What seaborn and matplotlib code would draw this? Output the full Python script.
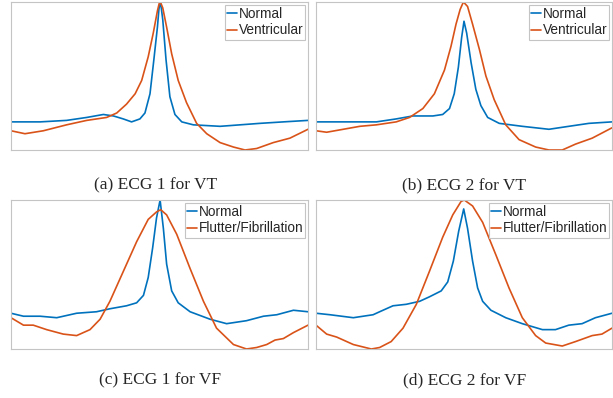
import matplotlib
matplotlib.use("Agg")
import matplotlib.pyplot as plt
import seaborn as sns

# Normalised ECG beats, x in % of the window, y as fraction of amplitude range
# (a) ECG 1 for VT
a_norm_x = [0, 9.8, 18.7, 25.5, 31.1, 34.5, 37.8, 40.6, 43.4, 45.1, 46.8, 48.1, 49.3, 49.8, 50.2,
            50.6, 51.1, 52.2, 53.5, 55.2, 57.5, 61.4, 70.4, 77.1, 83.8, 91.7, 100]
a_norm_y = [0.19, 0.19, 0.20, 0.22, 0.24, 0.23, 0.21, 0.19, 0.21, 0.25, 0.38, 0.61, 0.83, 0.95, 1.0,
            0.96, 0.88, 0.61, 0.36, 0.24, 0.19, 0.17, 0.16, 0.17, 0.18, 0.19, 0.20]
a_vt_x = [0, 4.7, 10.9, 18.7, 25.5, 32.2, 35.6, 38.9, 41.8, 44.0, 46.2, 47.9, 49.3, 49.9,
          50.5, 51.1, 52.4, 54.1, 56.3, 59.1, 62.5, 65.9, 70.4, 74.9, 78.8, 82.7, 88.3, 93.9, 100]
a_vt_y = [0.13, 0.11, 0.13, 0.17, 0.20, 0.22, 0.25, 0.31, 0.38, 0.47, 0.63, 0.79, 0.94, 0.99,
          0.99, 0.96, 0.83, 0.65, 0.47, 0.32, 0.18, 0.11, 0.05, 0.02, 0.0, 0.01, 0.05, 0.08, 0.14]

# (b) ECG 2 for VT
b_norm_x = [0, 9.2, 20.4, 27.1, 32.7, 39.5, 42.8, 45.1, 46.7, 48.1, 49.2, 50.0, 50.9, 52.4,
            54.0, 55.7, 58.0, 61.9, 69.7, 78.7, 85.4, 92.2, 100]
b_norm_y = [0.19, 0.19, 0.19, 0.21, 0.23, 0.23, 0.24, 0.28, 0.38, 0.56, 0.76, 0.87, 0.79, 0.59,
            0.41, 0.30, 0.22, 0.18, 0.16, 0.14, 0.16, 0.18, 0.19]
b_vt_x = [0, 3.6, 9.2, 14.8, 20.4, 27.1, 31.6, 36.1, 40.0, 43.4, 45.6, 47.3, 48.7, 49.8,
          51.2, 52.9, 55.2, 57.4, 60.2, 64.1, 68.6, 74.2, 78.7, 83.2, 87.7, 93.3, 100]
b_vt_y = [0.13, 0.12, 0.14, 0.16, 0.17, 0.19, 0.22, 0.28, 0.38, 0.54, 0.70, 0.85, 0.95, 1.0,
          0.97, 0.85, 0.68, 0.50, 0.34, 0.17, 0.07, 0.02, 0.0, 0.0, 0.04, 0.08, 0.15]

# (c) ECG 1 for VF
c_norm_x = [0, 4.2, 9.8, 15.4, 22.1, 28.8, 33.3, 38.9, 42.3, 44.6, 46.2, 47.7, 49.0, 50.2,
            51.3, 52.4, 54.1, 56.3, 60.3, 67.0, 72.6, 79.3, 85.0, 89.5, 95.1, 100]
c_norm_y = [0.24, 0.22, 0.22, 0.21, 0.24, 0.25, 0.27, 0.29, 0.31, 0.36, 0.48, 0.68, 0.88, 1.0,
            0.81, 0.57, 0.39, 0.31, 0.25, 0.20, 0.17, 0.19, 0.22, 0.23, 0.26, 0.25]
c_vf_x = [0, 4.2, 7.5, 12.0, 17.6, 22.1, 26.6, 30.0, 33.3, 37.8, 42.3, 46.2, 49.0, 50.4,
          52.4, 55.8, 60.3, 64.8, 69.2, 74.9, 79.3, 82.7, 86.1, 88.9, 91.7, 95.1, 100]
c_vf_y = [0.21, 0.16, 0.16, 0.13, 0.10, 0.09, 0.13, 0.20, 0.32, 0.52, 0.72, 0.87, 0.92, 0.935,
          0.90, 0.77, 0.54, 0.32, 0.14, 0.03, 0.0, 0.01, 0.03, 0.06, 0.07, 0.11, 0.16]

# (d) ECG 2 for VF
d_norm_x = [0, 4.7, 12.6, 19.3, 21.5, 26.0, 30.5, 35.0, 38.3, 42.3, 44.5, 46.4, 48.2, 49.9,
            51.2, 52.9, 54.6, 56.3, 59.1, 64.1, 69.7, 76.5, 80.9, 85.4, 89.9, 94.4, 100]
d_norm_y = [0.24, 0.23, 0.21, 0.23, 0.25, 0.29, 0.30, 0.32, 0.35, 0.39, 0.45, 0.59, 0.79, 0.94,
            0.81, 0.59, 0.41, 0.32, 0.26, 0.21, 0.17, 0.13, 0.13, 0.16, 0.17, 0.21, 0.24]
d_vf_x = [0, 3.6, 7.0, 12.6, 18.7, 21.5, 25.4, 29.4, 33.9, 38.3, 42.8, 46.2, 49.0, 50.1,
          52.9, 56.3, 60.8, 65.2, 69.7, 74.2, 77.6, 83.2, 87.7, 93.3, 96.6, 100]
d_vf_y = [0.16, 0.10, 0.08, 0.03, 0.0, 0.01, 0.05, 0.14, 0.30, 0.52, 0.75, 0.90, 0.99, 1.0,
          0.96, 0.85, 0.63, 0.41, 0.21, 0.09, 0.04, 0.02, 0.05, 0.09, 0.10, 0.14]

captions = ["(a) ECG 1 for VT", "(b) ECG 2 for VT", "(c) ECG 1 for VF", "(d) ECG 2 for VF"]
other_labels = ["Ventricular", "Ventricular", "Flutter/Fibrillation", "Flutter/Fibrillation"]

panels = [
    (a_norm_x, a_norm_y, a_vt_x, a_vt_y),
    (b_norm_x, b_norm_y, b_vt_x, b_vt_y),
    (c_norm_x, c_norm_y, c_vf_x, c_vf_y),
    (d_norm_x, d_norm_y, d_vf_x, d_vf_y),
]

sns.set_style("white")
plt.rcParams['font.family'] = ['Liberation Sans', 'DejaVu Sans']

BLUE = "#0072BD"
ORANGE = "#D95319"

fig = plt.figure(figsize=(6.13, 3.98), dpi=100)

# axes rectangles in figure fractions [left, bottom, width, height]
rects = [
    [11 / 613, 1 - 150 / 398, 297 / 613, 148 / 398],
    [316 / 613, 1 - 150 / 398, 296 / 613, 148 / 398],
    [11 / 613, 1 - 349 / 398, 297 / 613, 149 / 398],
    [316 / 613, 1 - 349 / 398, 296 / 613, 149 / 398],
]
caption_pos = [(156, 185), (464, 185), (160, 380), (465, 380)]

for i, (nx, ny, ox, oy) in enumerate(panels):
    ax = fig.add_axes(rects[i])
    sns.lineplot(x=nx, y=ny, ax=ax, color=BLUE, linewidth=1.2, label="Normal")
    sns.lineplot(x=ox, y=oy, ax=ax, color=ORANGE, linewidth=1.2, label=other_labels[i])
    ax.set_xlim(0, 100)
    ax.set_ylim(0, 1.0)
    ax.set_xticks([])
    ax.set_yticks([])
    ax.set_xlabel("")
    ax.set_ylabel("")
    for sp in ax.spines.values():
        sp.set_color("#c4c4c4")
        sp.set_linewidth(0.8)
    leg = ax.legend(loc="upper right", fontsize=9.8, handlelength=0.75, handletextpad=0.1,
                    borderpad=0.15, labelspacing=0.2, borderaxespad=0.2, fancybox=False,
                    framealpha=1)
    leg.get_frame().set_edgecolor("#c4c4c4")
    leg.get_frame().set_linewidth(0.8)

    cx, cy = caption_pos[i]
    fig.text(cx / 613, 1 - cy / 398, captions[i], ha="center", va="center",
             fontsize=12.5, family=["Liberation Serif", "DejaVu Serif"])

plt.savefig("out.png", dpi=100)
